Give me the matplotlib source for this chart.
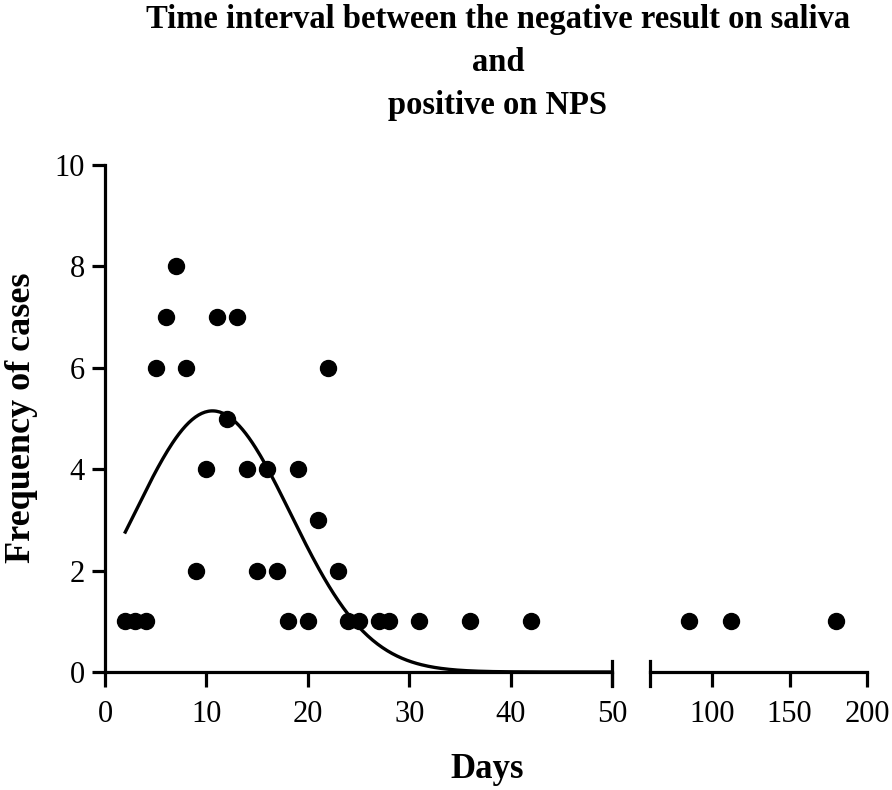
import numpy as np
import matplotlib
matplotlib.use("Agg")
import matplotlib.pyplot as plt

plt.rcParams['font.family'] = ['Liberation Serif', 'DejaVu Serif']

# days between negative saliva and positive NPS, and number of cases
days = [2, 3, 4, 5, 6, 7, 8, 9, 10, 11, 12, 13, 14, 15, 16, 17, 18, 19, 20,
        21, 22, 23, 24, 25, 27, 28, 31, 36, 42]
cases = [1, 1, 1, 6, 7, 8, 6, 2, 4, 7, 5, 7, 4, 2, 4, 2, 1, 4, 1,
         3, 6, 2, 1, 1, 1, 1, 1, 1, 1]
days_late = [85, 112, 180]
cases_late = [1, 1, 1]

# gaussian fit
fit_amp = 5.15
fit_mean = 10.6
fit_sd = 7.7
fit_start, fit_end = 2, 50

fig = plt.figure(figsize=(8.92, 7.9), dpi=100)
ax1 = fig.add_axes([105 / 892, 1 - 672 / 790, (612 - 105) / 892, (672 - 165) / 790])
ax2 = fig.add_axes([650 / 892, 1 - 672 / 790, (867 - 650) / 892, (672 - 165) / 790])

xfit = np.linspace(fit_start, fit_end, 300)
yfit = fit_amp * np.exp(-(xfit - fit_mean) ** 2 / (2 * fit_sd ** 2))

ax1.plot(xfit, yfit, color='black', lw=2.4, clip_on=False)
ax1.plot(days, cases, 'o', color='black', ms=11.5, clip_on=False)
ax2.plot(days_late, cases_late, 'o', color='black', ms=11.5, clip_on=False)

ax1.set_xlim(0, 50)
ax1.set_ylim(0, 10)
ax1.set_xticks([0, 10, 20, 30, 40, 50])
ax1.set_yticks([0, 2, 4, 6, 8, 10])
ax2.set_xlim(60, 200)
ax2.set_ylim(0, 10)
ax2.set_xticks([100, 150, 200])
ax2.set_yticks([])

for ax in (ax1, ax2):
    for s in ('top', 'right'):
        ax.spines[s].set_visible(False)
    for s in ('left', 'bottom'):
        ax.spines[s].set_linewidth(2.3)
    ax.tick_params(direction='out', width=2.3, labelsize=22)
    ax.tick_params(axis='x', length=11, pad=9)
    ax.tick_params(axis='y', length=9.5, pad=5)
ax2.spines['left'].set_visible(False)

# break marks at the ends of the two x segments
ax1.plot([1, 1], [-0.028, 0.022], transform=ax1.transAxes, color='black', lw=2.3, clip_on=False)
ax2.plot([0, 0], [-0.028, 0.022], transform=ax2.transAxes, color='black', lw=2.3, clip_on=False)

fig.text(498 / 892, 1 - 4 / 790, 'Time interval between the negative result on saliva\nand\npositive on NPS',
         ha='center', va='top', fontsize=23.5, fontweight='bold', linespacing=1.5)
fig.text(487 / 892, 1 - 770 / 790, 'Days', ha='center', va='center', fontsize=25, fontweight='bold')
fig.text(22 / 892, 1 - 418 / 790, 'Frequency of cases', ha='center', va='center',
         rotation=90, fontsize=26, fontweight='bold')

fig.savefig('out.png', dpi=100)
